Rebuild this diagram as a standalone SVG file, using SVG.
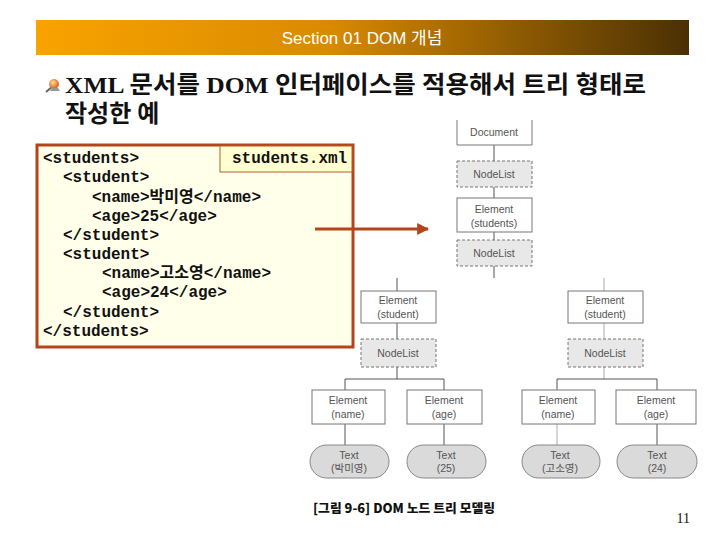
<svg xmlns="http://www.w3.org/2000/svg" width="720" height="540" viewBox="0 0 720 540">
<defs>
<linearGradient id="bar" x1="0" y1="0" x2="1" y2="0">
<stop offset="0" stop-color="#F9A300"/>
<stop offset="0.45" stop-color="#D98A00"/>
<stop offset="1" stop-color="#4A3004"/>
</linearGradient>
<radialGradient id="pin" cx="0.4" cy="0.35" r="0.6">
<stop offset="0" stop-color="#FFD9A0"/>
<stop offset="1" stop-color="#D9691A"/>
</radialGradient>
<marker id="arr" viewBox="0 0 10 10" refX="9" refY="5" markerWidth="4" markerHeight="4" orient="auto">
<path d="M0,0 L10,5 L0,10 z" fill="#B4441C"/>
</marker>
<style>
.code{font-family:"Liberation Mono","Noto Sans CJK KR",monospace;font-size:16px;font-weight:bold;fill:#111}
.box{fill:#fff;stroke:#777;stroke-width:1}
.nl{fill:#E8E8E8;stroke:#777;stroke-width:1;stroke-dasharray:3,2}
.txt{fill:#DADADA;stroke:#888;stroke-width:1}
.lbl{font-family:"Liberation Sans","Noto Sans CJK KR",sans-serif;font-size:10.5px;fill:#555;text-anchor:middle}
.ln{stroke:#555;stroke-width:1;fill:none}
.lnl{stroke:#AAA;stroke-width:1;fill:none}
.ttl{font-family:"Liberation Serif","Noto Sans CJK KR",serif;font-size:24px;font-weight:bold;fill:#111}
</style>
</defs>
<rect width="720" height="540" fill="#fff"/>
<g id="header">
<rect x="36" y="20" width="653" height="35" fill="url(#bar)"/>
<text x="362" y="44" text-anchor="middle" font-family="Liberation Sans,'Noto Sans CJK KR',sans-serif" font-size="17" fill="#fff">Section 01 DOM 개념</text>
</g>
<g id="title">
<g transform="translate(44,78)">
<path d="M2,14 L9,8" stroke="#666" stroke-width="2"/>
<circle cx="10" cy="6" r="5" fill="url(#pin)"/>
<path d="M6,13 L16,13 L14,10 L8,10 z" fill="#999"/>
</g>
<text class="ttl" x="65" y="93" textLength="581" lengthAdjust="spacingAndGlyphs">XML 문서를 DOM 인터페이스를 적용해서 트리 형태로</text>
<text class="ttl" x="65" y="122">작성한 예</text>
</g>
<g id="code">
<rect x="37" y="145" width="316" height="202" fill="#FFFFEA" stroke="#B4441C" stroke-width="3"/>
<rect x="220" y="146" width="132" height="26" fill="#FFFFD2" stroke="#B0602A" stroke-width="1"/>
<text class="code" x="232" y="163">students.xml</text>
<text class="code" x="43" y="163">&lt;students&gt;</text>
<text class="code" x="63" y="182">&lt;student&gt;</text>
<text class="code" x="92" y="202">&lt;name&gt;박미영&lt;/name&gt;</text>
<text class="code" x="92" y="221">&lt;age&gt;25&lt;/age&gt;</text>
<text class="code" x="63" y="240">&lt;/student&gt;</text>
<text class="code" x="63" y="259">&lt;student&gt;</text>
<text class="code" x="102" y="278">&lt;name&gt;고소영&lt;/name&gt;</text>
<text class="code" x="102" y="297">&lt;age&gt;24&lt;/age&gt;</text>
<text class="code" x="63" y="317">&lt;/student&gt;</text>
<text class="code" x="43" y="336">&lt;/students&gt;</text>
</g>
<g id="connectors">
<line x1="315" y1="229" x2="428" y2="229" stroke="#B4441C" stroke-width="3" marker-end="url(#arr)"/>
<path class="ln" d="M494,145 V161 M494,187 V198 M494,232 V240 M494,266 V278"/>
<path class="ln" d="M397,278 V291 M397,323 V339 M397,367 V379 M345,379 H444 M345,379 V390 M444,379 V390 M345,424 V445 M444,424 V445"/>
<path class="lnl" d="M604,278 V291 M604,323 V339 M604,367 V379"/>
<path class="ln" d="M557,379 H657 M557,379 V390 M657,379 V390 M657,424 V445"/>
<path class="lnl" d="M557,424 V445" stroke-width="2"/>
</g>
<g id="n-document">
<path d="M457,120 V145 H532 V120" class="box"/>
<text class="lbl" x="494" y="136">Document</text>
</g>
<g id="n-nodelist1">
<rect class="nl" x="457" y="161" width="75" height="26"/>
<text class="lbl" x="494" y="178">NodeList</text>
</g>
<g id="n-students">
<rect class="box" x="457" y="198" width="75" height="34"/>
<text class="lbl" x="494" y="213">Element</text>
<text class="lbl" x="494" y="227">(students)</text>
</g>
<g id="n-nodelist2">
<rect class="nl" x="457" y="240" width="75" height="26"/>
<text class="lbl" x="494" y="257">NodeList</text>
</g>
<g id="n-student1">
<rect class="box" x="361" y="291" width="75" height="32"/>
<text class="lbl" x="398" y="304">Element</text>
<text class="lbl" x="398" y="318">(student)</text>
</g>
<g id="n-nodelist3">
<rect class="nl" x="361" y="339" width="75" height="28"/>
<text class="lbl" x="398" y="357">NodeList</text>
</g>
<g id="n-student2">
<rect class="box" x="568" y="291" width="75" height="32"/>
<text class="lbl" x="605" y="304">Element</text>
<text class="lbl" x="605" y="318">(student)</text>
</g>
<g id="n-nodelist4">
<rect class="nl" x="568" y="339" width="75" height="28"/>
<text class="lbl" x="605" y="357">NodeList</text>
</g>
<g id="n-name1">
<rect class="box" x="312" y="390" width="73" height="34"/>
<text class="lbl" x="348" y="404">Element</text>
<text class="lbl" x="348" y="418">(name)</text>
</g>
<g id="n-age1">
<rect class="box" x="407" y="390" width="75" height="34"/>
<text class="lbl" x="444" y="404">Element</text>
<text class="lbl" x="444" y="418">(age)</text>
</g>
<g id="n-name2">
<rect class="box" x="522" y="390" width="73" height="34"/>
<text class="lbl" x="558" y="404">Element</text>
<text class="lbl" x="558" y="418">(name)</text>
</g>
<g id="n-age2">
<rect class="box" x="616" y="390" width="80" height="34"/>
<text class="lbl" x="656" y="404">Element</text>
<text class="lbl" x="656" y="418">(age)</text>
</g>
<g id="n-text1">
<rect class="txt" x="310" y="445" width="79" height="33" rx="16.5"/>
<text class="lbl" x="349" y="459">Text</text>
<text class="lbl" x="349" y="472">(박미영)</text>
</g>
<g id="n-text2">
<rect class="txt" x="407" y="445" width="79" height="33" rx="16.5"/>
<text class="lbl" x="446" y="459">Text</text>
<text class="lbl" x="446" y="472">(25)</text>
</g>
<g id="n-text3">
<rect class="txt" x="522" y="445" width="78" height="33" rx="16.5"/>
<text class="lbl" x="560" y="459">Text</text>
<text class="lbl" x="560" y="472">(고소영)</text>
</g>
<g id="n-text4">
<rect class="txt" x="617" y="445" width="80" height="33" rx="16.5"/>
<text class="lbl" x="657" y="459">Text</text>
<text class="lbl" x="657" y="472">(24)</text>
</g>
<text x="313" y="513" font-family="'Noto Sans CJK KR',sans-serif" font-size="12.5" font-weight="900" fill="#111" textLength="182" lengthAdjust="spacingAndGlyphs">[그림 9-6] DOM 노드 트리 모델링</text>
<text x="690" y="523" text-anchor="end" font-family="'Liberation Serif',serif" font-size="14" fill="#111">11</text>
</svg>
